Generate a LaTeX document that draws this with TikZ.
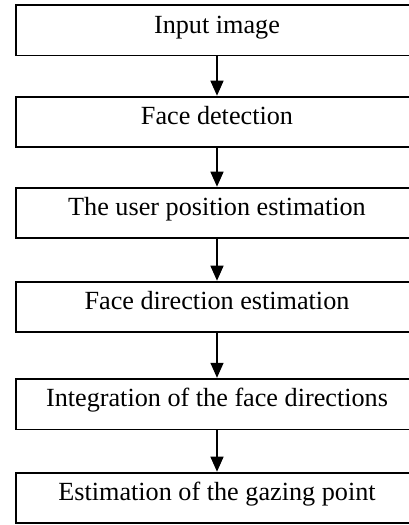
\documentclass[tikz,border=0pt]{standalone}
\usepackage{fontspec}
\setmainfont{Liberation Serif}
\usetikzlibrary{arrows.meta,calc}
\begin{document}
\begin{tikzpicture}[x=1pt,y=1pt,
  stagebox/.style={anchor=north,
    minimum width=402pt, inner xsep=0pt, inner ysep=0pt, outer sep=0pt,
    text height=28pt, text depth=22.5pt,
    font=\fontsize{26.2}{30}\selectfont},
  frame/.style={draw=black, line width=1.6pt},
  flow/.style={draw=black, line width=1.3pt,
    -{Triangle[width=13pt,length=15pt]}, shorten >=1pt}]
  \useasboundingbox (0,0) rectangle (409,-525);
  \coordinate (edge) at (409,0);
  \node[stagebox] (b1) at (217,-5)     {Input image};
  \node[stagebox] (b2) at (217,-96.7)  {Face detection};
  \node[stagebox] (b3) at (217,-187.7) {The user position estimation};
  \node[stagebox] (b4) at (217,-281.7) {Face direction estimation};
  \node[stagebox] (b5) at (217,-378.8) {Integration of the face directions};
  \node[stagebox] (b6) at (217,-472.7) {Estimation of the gazing point};
  % stage frames: open on the right, where they meet the page edge
  \foreach \b in {b1,b2,b3,b4,b5,b6}
    \draw[frame] (\b.north west -| edge) -- (\b.north west)
      -- (\b.south west) -- (\b.south west -| edge);
  \foreach \a/\b in {b1/b2,b2/b3,b3/b4,b4/b5,b5/b6}
    \draw[flow] (\a.south) -- (\b.north);
\end{tikzpicture}
\end{document}
